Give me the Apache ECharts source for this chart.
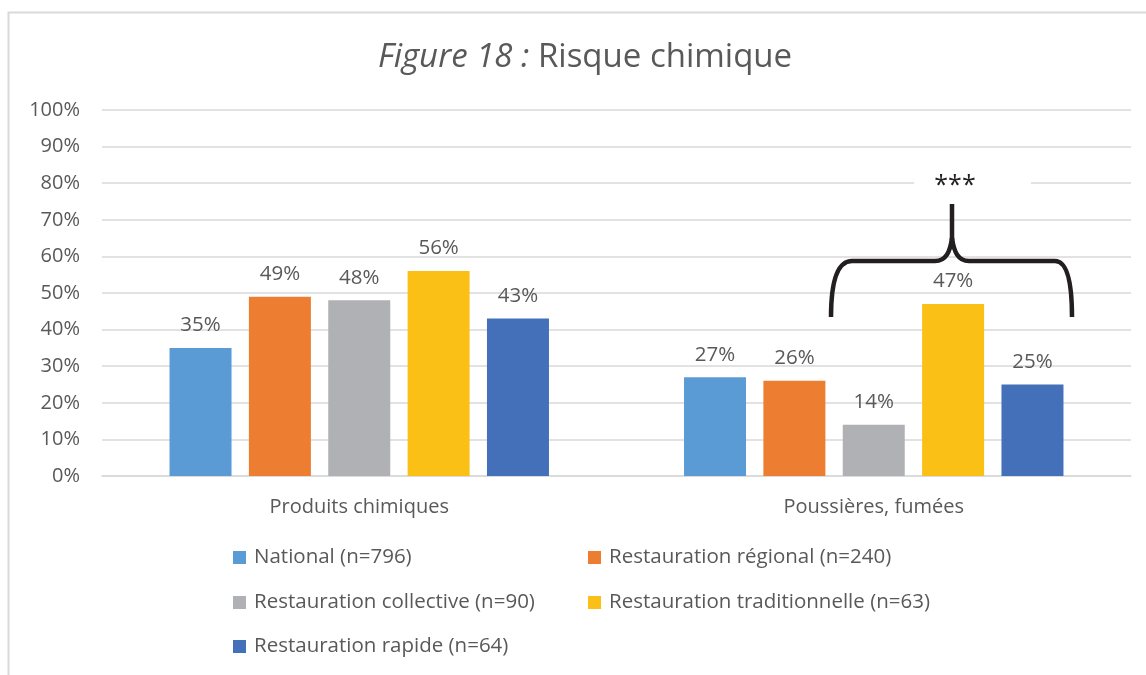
<!DOCTYPE html>
<html>
<head>
<meta charset="utf-8">
<script src="https://cdn.jsdelivr.net/npm/echarts@6/dist/echarts.min.js"></script>
<style>
html,body{margin:0;padding:0;background:#fff;}
#c{width:1146px;height:675px;}
</style>
</head>
<body>
<div id="c"></div>
<script>
const categories = ['Produits chimiques', 'Poussières, fumées'];
const seriesNames = ['National (n=796)', 'Restauration régional (n=240)', 'Restauration collective (n=90)', 'Restauration traditionnelle (n=63)', 'Restauration rapide (n=64)'];
const national = [35, 27];
const regional = [49, 26];
const collective = [48, 14];
const traditionnelle = [56, 47];
const rapide = [43, 25];
const seriesValues = [national, regional, collective, traditionnelle, rapide];
const colors = ['#5B9BD5', '#ED7D31', '#B0B1B4', '#FBC016', '#4370B9'];

const FONT = 'Open Sans';
const TXT = '#595959';
const BRACE = '#231F20';

const chart = echarts.init(document.getElementById('c'), null, {renderer: 'canvas'});

const legendPos = [
  {left: 233, top: 547},
  {left: 588, top: 547},
  {left: 233, top: 592},
  {left: 588, top: 592},
  {left: 233, top: 636}
];

function bez(p) {
  return {type: 'bezierCurve', silent: true, z: 11,
    shape: {x1: p[0], y1: p[1], cpx1: p[2], cpy1: p[3], cpx2: p[4], cpy2: p[5], x2: p[6], y2: p[7]},
    style: {stroke: BRACE, lineWidth: 4.5, fill: null}};
}
function seg(p) {
  return {type: 'line', silent: true, z: 11,
    shape: {x1: p[0], y1: p[1], x2: p[2], y2: p[3]},
    style: {stroke: BRACE, lineWidth: 4.5}};
}

const option = {
  animation: false,
  color: colors,
  textStyle: {fontFamily: FONT},
  grid: {left: 102, right: 15, top: 110, bottom: 199, containLabel: false},
  xAxis: {
    type: 'category',
    data: categories,
    axisLine: {show: true, lineStyle: {color: '#D9D9D9', width: 1.5}},
    axisTick: {show: false},
    axisLabel: {color: TXT, fontSize: 20, fontFamily: FONT, margin: 21}
  },
  yAxis: {
    type: 'value',
    min: 0, max: 100, interval: 10,
    axisLine: {show: false},
    axisTick: {show: false},
    splitLine: {lineStyle: {color: '#D9D9D9', width: 1.5}},
    axisLabel: {color: TXT, fontSize: 20, fontFamily: FONT, margin: 22, formatter: '{value}%'}
  },
  legend: legendPos.map((p, i) => ({
    data: [seriesNames[i]],
    left: p.left, top: p.top,
    orient: 'horizontal',
    itemWidth: 13, itemHeight: 13,
    icon: 'rect',
    padding: 0,
    textStyle: {color: TXT, fontSize: 20.5, fontFamily: FONT, padding: [0, 0, 0, 3]}
  })),
  series: seriesNames.map((name, i) => ({
    name: name,
    type: 'bar',
    data: seriesValues[i],
    barWidth: 62,
    barGap: '28%',
    itemStyle: {color: colors[i]},
    label: {
      show: true, position: 'top', distance: 12,
      color: TXT, fontSize: 20.5, fontFamily: FONT,
      formatter: '{c}%'
    }
  })),
  graphic: [
    {
      type: 'rect', silent: true, z: 0,
      shape: {x: 8.5, y: 12.5, width: 1200, height: 700},
      style: {fill: null, stroke: '#D9D9D9', lineWidth: 2}
    },
    {
      type: 'text', silent: true, z: 10,
      x: 585, y: 58,
      style: {
        text: '{i|Figure 18 :}{n| Risque chimique}',
        align: 'center', verticalAlign: 'middle',
        rich: {
          i: {fontFamily: FONT, fontSize: 33, fontStyle: 'italic', fill: TXT},
          n: {fontFamily: FONT, fontSize: 33, fill: TXT}
        }
      }
    },
    {
      type: 'rect', silent: true, z: 10,
      shape: {x: 914, y: 171, width: 117, height: 24},
      style: {fill: '#ffffff'}
    },
    {
      type: 'text', silent: true, z: 11,
      x: 955, y: 186,
      style: {
        text: '***', align: 'center', verticalAlign: 'middle',
        fontFamily: FONT, fontSize: 25, fill: BRACE
      }
    },
    bez([831, 317, 831, 285, 836, 261, 852, 261]),
    seg([852, 261, 935, 261]),
    bez([935, 261, 946, 261, 950, 252, 952, 238]),
    seg([952, 240, 952, 204]),
    bez([952, 238, 954, 252, 958, 261, 969, 261]),
    seg([969, 261, 1055, 261]),
    bez([1055, 261, 1068, 261, 1072, 285, 1072, 317])
  ]
};
chart.setOption(option);
</script>
</body>
</html>
